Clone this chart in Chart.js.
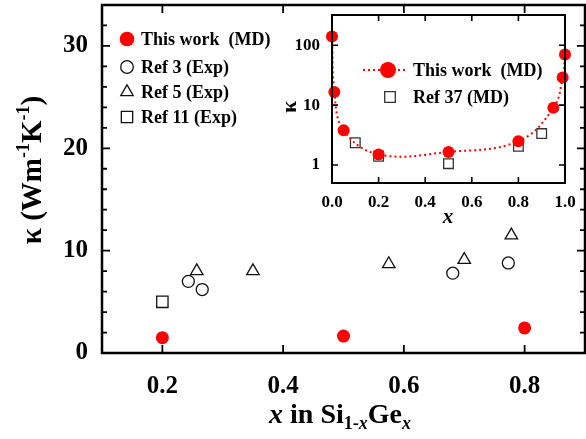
<!DOCTYPE html>
<html>
<head>
<meta charset="utf-8">
<script src="https://cdn.jsdelivr.net/npm/chart.js@4.4.0/dist/chart.umd.min.js"></script>
<style>
  html, body { margin: 0; padding: 0; background: #fff; }
  #wrap { position: relative; width: 586px; height: 439px; overflow: hidden; }
  #mainChart { position: absolute; left: 0; top: 0; }
  #insetChart { position: absolute; left: 270px; top: 8px; }
</style>
</head>
<body>
<div id="wrap">
  <canvas id="mainChart" width="586" height="439" style="width:586px;height:439px"></canvas>
  <canvas id="insetChart" width="310" height="225" style="width:310px;height:225px"></canvas>
</div>
<script>
// main plot: kappa vs x in Si(1-x)Ge(x)
const workX = [0.2, 0.5, 0.8];
const workY = [1.5, 1.65, 2.45];
const ref3X = [0.243, 0.266, 0.681, 0.773];
const ref3Y = [7.0, 6.2, 7.8, 8.8];
const ref5X = [0.257, 0.35, 0.575, 0.70, 0.778];
const ref5Y = [8.0, 8.0, 8.7, 9.1, 11.5];
const ref11X = [0.2];
const ref11Y = [5.0];

const mainXTicks = [0.2, 0.4, 0.6, 0.8];
const mainYTicks = [0, 10, 20, 30];

// inset: log scale, full composition range
const insetWorkX = [0.0, 0.01, 0.05, 0.2, 0.5, 0.8, 0.95, 0.99, 1.0];
const insetWorkY = [140, 16.5, 3.8, 1.5, 1.65, 2.5, 9.0, 29, 70];
const ref37X = [0.1, 0.2, 0.5, 0.8, 0.9];
const ref37Y = [2.35, 1.4, 1.05, 2.05, 3.35];

const insetXTicks = [0.0, 0.2, 0.4, 0.6, 0.8, 1.0];
const insetYTicks = [1, 10, 100];

const SERIF = '"Liberation Serif", "Times New Roman", serif';
const RED = '#ff0000';

const pts = (xs, ys) => xs.map((x, i) => ({ x: x, y: ys[i] }));

function marker(ctx, style, x, y, r, fill, stroke, lw) {
    ctx.beginPath();
    if (style === 'circle') {
        ctx.arc(x, y, r, 0, Math.PI * 2);
    } else if (style === 'triangle') {
        for (let k = 0; k < 3; k++) {
            const a = k * 2 * Math.PI / 3;
            const px = x + Math.sin(a) * r, py = y - Math.cos(a) * r;
            if (k === 0) ctx.moveTo(px, py); else ctx.lineTo(px, py);
        }
        ctx.closePath();
    } else {
        const s = r * Math.SQRT2;
        ctx.rect(x - s / 2, y - s / 2, s, s);
    }
    if (fill) { ctx.fillStyle = fill; ctx.fill(); }
    if (lw) { ctx.lineWidth = lw; ctx.strokeStyle = stroke; ctx.stroke(); }
}

// draw a run of [text, size, italic, dy] pieces starting at x
function runText(ctx, parts, x, y) {
    parts.forEach(p => {
        ctx.font = (p[2] ? 'italic ' : '') + 'bold ' + p[1] + 'px ' + SERIF;
        ctx.fillText(p[0], x, y + (p[3] || 0));
        x += ctx.measureText(p[0]).width;
    });
}
function runWidth(ctx, parts) {
    let w = 0;
    parts.forEach(p => {
        ctx.font = (p[2] ? 'italic ' : '') + 'bold ' + p[1] + 'px ' + SERIF;
        w += ctx.measureText(p[0]).width;
    });
    return w;
}

// fixed axis boxes, no extra label padding
const fixX = h => s => { s.height = h; s.paddingLeft = 0; s.paddingRight = 0; };
const fixY = w => s => { s.width = w; s.paddingTop = 0; s.paddingBottom = 0; };

// box with inward ticks on all four sides
const framePlugin = {
    id: 'frame',
    afterDatasetsDraw(chart, args, o) {
        const { ctx, chartArea: a } = chart;
        const xs = chart.scales.x, ys = chart.scales.y;
        ctx.save();
        ctx.strokeStyle = '#000';
        ctx.lineWidth = o.tickWidth;
        ctx.beginPath();
        o.xTicks.forEach(v => {
            const p = xs.getPixelForValue(v);
            ctx.moveTo(p, a.bottom); ctx.lineTo(p, a.bottom - o.major);
            ctx.moveTo(p, a.top); ctx.lineTo(p, a.top + o.major);
        });
        o.yMajor.forEach(v => {
            const p = ys.getPixelForValue(v);
            ctx.moveTo(a.left, p); ctx.lineTo(a.left + o.major, p);
            ctx.moveTo(a.right, p); ctx.lineTo(a.right - o.major, p);
        });
        o.yMinor.forEach(v => {
            const p = ys.getPixelForValue(v);
            ctx.moveTo(a.left, p); ctx.lineTo(a.left + o.minor, p);
            ctx.moveTo(a.right, p); ctx.lineTo(a.right - o.minor, p);
        });
        ctx.stroke();
        ctx.lineWidth = o.lineWidth;
        ctx.strokeRect(a.left, a.top, a.right - a.left, a.bottom - a.top);
        ctx.restore();
    }
};

const whiteArea = {
    id: 'whiteArea',
    beforeDraw(chart) {
        const { ctx, chartArea: a } = chart;
        ctx.save();
        ctx.fillStyle = '#fff';
        ctx.fillRect(a.left, a.top, a.right - a.left, a.bottom - a.top);
        ctx.restore();
    }
};

const mainDecor = {
    id: 'mainDecor',
    afterDraw(chart) {
        const ctx = chart.ctx;
        ctx.save();
        ctx.fillStyle = '#000';
        ctx.textBaseline = 'middle';
        ctx.textAlign = 'left';

        // legend
        const items = [
            ['circle', 7.3, RED, null, 0, 'This work  (MD)', 39],
            ['circle', 6.3, '#fff', '#111', 1.3, 'Ref 3 (Exp)', 67],
            ['triangle', 7.2, '#fff', '#111', 1.3, 'Ref 5 (Exp)', 92],
            ['rect', 8, '#fff', '#111', 1.3, 'Ref 11 (Exp)', 117]
        ];
        items.forEach(it => {
            marker(ctx, it[0], 127, it[6], it[1], it[2], it[3], it[4]);
            ctx.fillStyle = '#000';
            ctx.font = 'bold 18px ' + SERIF;
            ctx.fillText(it[5], 141, it[6] + 1);
        });

        // x title
        ctx.textBaseline = 'alphabetic';
        const xt = [['x', 28, true], [' in Si', 28], ['1-', 18, false, 6], ['x', 18, true, 6], ['Ge', 28], ['x', 18, true, 6]];
        runText(ctx, xt, 340 - runWidth(ctx, xt) / 2, 423);

        // y title
        const yt = [['\u03BA (Wm', 29], ['-1', 18, false, -12], ['K', 29], ['-1', 18, false, -12], [')', 29]];
        ctx.translate(41, 170);
        ctx.rotate(-Math.PI / 2);
        runText(ctx, yt, -runWidth(ctx, yt) / 2, 0);
        ctx.restore();
    }
};

const insetDecor = {
    id: 'insetDecor',
    afterDraw(chart) {
        const ctx = chart.ctx;
        ctx.save();
        // legend
        ctx.strokeStyle = RED;
        ctx.lineWidth = 2;
        ctx.setLineDash([2, 3]);
        ctx.beginPath();
        ctx.moveTo(93, 62); ctx.lineTo(138, 62);
        ctx.stroke();
        ctx.setLineDash([]);
        marker(ctx, 'circle', 118, 62, 8, RED, null, 0);
        marker(ctx, 'rect', 120, 89, 7.5, '#fff', '#333', 1.3);
        ctx.fillStyle = '#000';
        ctx.textBaseline = 'middle';
        ctx.font = 'bold 18px ' + SERIF;
        ctx.fillText('This work  (MD)', 143, 63);
        ctx.fillText('Ref 37 (MD)', 143, 90);

        // axis titles
        ctx.textAlign = 'center';
        ctx.font = 'italic bold 21px ' + SERIF;
        ctx.fillText('x', 178, 210);
        ctx.translate(20, 99);
        ctx.rotate(-Math.PI / 2);
        ctx.font = 'bold 22px ' + SERIF;
        ctx.fillText('\u03BA', 0, 0);
        ctx.restore();
    }
};

const minorY = [];
for (let v = 2; v < 34; v += 2) if (v % 10) minorY.push(v);

new Chart(document.getElementById('mainChart'), {
    type: 'scatter',
    data: {
        datasets: [
            { data: pts(ref11X, ref11Y), pointStyle: 'rect', pointRadius: 8, backgroundColor: '#fff', borderColor: '#111', borderWidth: 1.3 },
            { data: pts(ref3X, ref3Y), pointStyle: 'circle', pointRadius: 6, backgroundColor: '#fff', borderColor: '#111', borderWidth: 1.3 },
            { data: pts(ref5X, ref5Y), pointStyle: 'triangle', pointRadius: 7.2, backgroundColor: '#fff', borderColor: '#111', borderWidth: 1.3 },
            { data: pts(workX, workY), pointStyle: 'circle', pointRadius: 6.5, backgroundColor: RED, borderColor: RED, borderWidth: 0 }
        ]
    },
    options: {
        responsive: false,
        animation: false,
        layout: { autoPadding: false, padding: { top: 5, right: 1, left: 0, bottom: 0 } },
        plugins: {
            legend: { display: false },
            tooltip: { enabled: false },
            frame: { xTicks: mainXTicks, yMajor: mainYTicks, yMinor: minorY, major: 8, minor: 5, lineWidth: 2.5, tickWidth: 1.8 }
        },
        scales: {
            x: {
                type: 'linear', min: 0.1, max: 0.9,
                afterBuildTicks: s => { s.ticks = mainXTicks.map(v => ({ value: v })); },
                afterFit: fixX(86),
                grid: { display: false, drawTicks: false },
                border: { display: false },
                ticks: { autoSkip: false, maxRotation: 0, padding: 19, color: '#000', font: { family: SERIF, size: 25, weight: 'bold' }, callback: v => v.toFixed(1) }
            },
            y: {
                type: 'linear', min: 0, max: 34,
                afterBuildTicks: s => { s.ticks = mainYTicks.map(v => ({ value: v })); },
                afterFit: fixY(102),
                grid: { display: false, drawTicks: false },
                border: { display: false },
                ticks: { padding: 14, color: '#000', font: { family: SERIF, size: 25, weight: 'bold' } }
            }
        }
    },
    plugins: [framePlugin, mainDecor]
});

new Chart(document.getElementById('insetChart'), {
    type: 'line',
    data: {
        datasets: [
            { data: pts(insetWorkX, insetWorkY), borderColor: RED, borderWidth: 2, borderDash: [2, 3], tension: 0.4,
              pointRadius: 6, pointBackgroundColor: RED, pointBorderWidth: 0, clip: false },
            { data: pts(ref37X, ref37Y), showLine: false, pointStyle: 'rect', pointRadius: 6.8,
              pointBackgroundColor: 'rgba(255,255,255,0)', pointBorderColor: '#333', pointBorderWidth: 1.3, clip: false }
        ]
    },
    options: {
        responsive: false,
        animation: false,
        layout: { autoPadding: false, padding: { top: 7, right: 15, left: 0, bottom: 0 } },
        plugins: {
            legend: { display: false },
            tooltip: { enabled: false },
            frame: { xTicks: insetXTicks, yMajor: insetYTicks, yMinor: [], major: 6, minor: 3, lineWidth: 2, tickWidth: 1.6 }
        },
        scales: {
            x: {
                type: 'linear', min: 0, max: 1,
                afterBuildTicks: s => { s.ticks = insetXTicks.map(v => ({ value: v })); },
                afterFit: fixX(50),
                grid: { display: false, drawTicks: false },
                border: { display: false },
                ticks: { autoSkip: false, maxRotation: 0, padding: 9, color: '#000', font: { family: SERIF, size: 17, weight: 'bold' }, callback: v => v.toFixed(1) }
            },
            y: {
                type: 'logarithmic', min: 0.5, max: 320,
                afterBuildTicks: s => { s.ticks = insetYTicks.map(v => ({ value: v })); },
                afterFit: fixY(62),
                grid: { display: false, drawTicks: false },
                border: { display: false },
                ticks: { padding: 12, color: '#000', font: { family: SERIF, size: 17, weight: 'bold' }, callback: v => String(v) }
            }
        }
    },
    plugins: [whiteArea, framePlugin, insetDecor]
});
</script>
</body>
</html>
